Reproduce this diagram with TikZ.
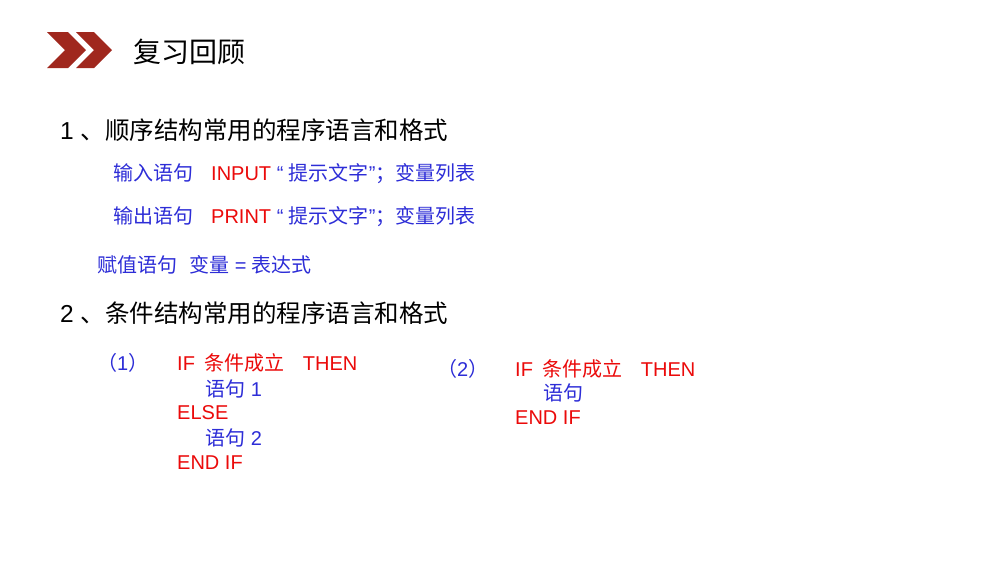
\documentclass[tikz,border=0pt]{standalone}
\usepackage{fontspec}
\setmainfont{Liberation Sans}
\newfontfamily\cjk{Noto Sans CJK SC}
\newfontfamily\cjkb{Noto Sans CJK SC Medium}
\definecolor{tblue}{RGB}{45,45,215}
\definecolor{tred}{RGB}{235,10,10}
\definecolor{chev}{RGB}{160,40,30}
\begin{document}
\begin{tikzpicture}[x=1pt,y=-1pt,
  t/.style={anchor=west,inner sep=0pt,font=\fontsize{20}{22}\selectfont},
  h/.style={anchor=west,inner sep=0pt,font=\fontsize{24.5}{26}\selectfont}]
\useasboundingbox[fill=white] (0,0) rectangle (1000,563);
\fill[chev] (47,32)--(68,32)--(86,50)--(68,68)--(47,68)--(65,50)--cycle;
\fill[chev] (76,32)--(94,32)--(112,50)--(94,68)--(76,68)--(94,50)--cycle;
\node[anchor=west,inner sep=0pt,font=\fontsize{28}{30}\selectfont\cjk] (title) at (133,52) {复习回顾};
\node[h] (s1) at (60,130) {1 {\cjk 、顺序结构常用的程序语言和格式}};
\node[t] (in) at (113,174) {\color{tblue}{\cjk 输入语句}\hspace{0.9em}\color{tred}INPUT \color{tblue}“ {\cjk 提示文字}”{\cjk ；变量列表}};
\node[t] (out) at (113,217) {\color{tblue}{\cjk 输出语句}\hspace{0.9em}\color{tred}PRINT \color{tblue}“ {\cjk 提示文字}”{\cjk ；变量列表}};
\node[t,text=tblue] (as) at (97,265) {{\cjk 赋值语句}\hspace{0.6em}{\cjk 变量} = {\cjk 表达式}};
\node[h] (s2) at (60,313) {2 {\cjk 、条件结构常用的程序语言和格式}};
\node[t,text=tblue] (p1) at (97,363) {{\cjk （}1{\cjk ）}};
\node[t,text=tred] (if1) at (177,363) {IF\hspace{0.5em}{\cjk 条件成立}\hspace{0.9em}THEN};
\node[t,text=tblue] (st1) at (205,389) {{\cjk 语句} 1};
\node[t,text=tred] (el) at (177,413) {ELSE};
\node[t,text=tblue] (st2) at (205,438) {{\cjk 语句} 2};
\node[t,text=tred] (end1) at (177,463) {END IF};
\node[t,text=tblue] (p2) at (437,369) {{\cjk （}2{\cjk ）}};
\node[t,text=tred] (if2) at (515,369) {IF\hspace{0.5em}{\cjk 条件成立}\hspace{0.9em}THEN};
\node[t,text=tblue] (st3) at (543,393) {{\cjk 语句}};
\node[t,text=tred] (end2) at (515,418) {END IF};
\end{tikzpicture}
\end{document}
